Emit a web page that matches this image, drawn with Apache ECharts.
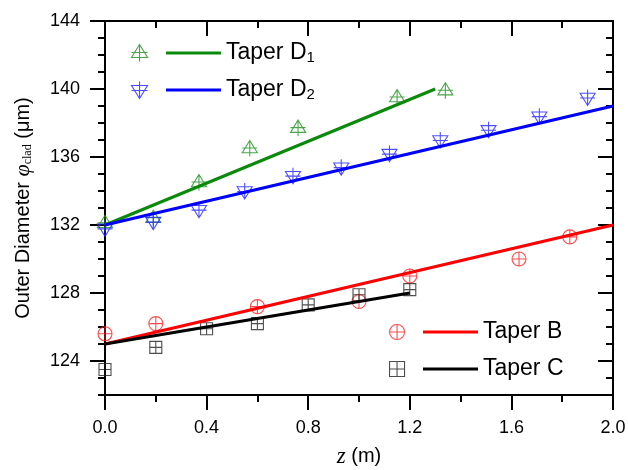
<!DOCTYPE html>
<html>
<head>
<meta charset="utf-8">
<script src="https://cdn.jsdelivr.net/npm/echarts@6/dist/echarts.min.js"></script>
<style>
  html, body { margin: 0; padding: 0; background: #fff; }
  #chart { width: 628px; height: 470px; }
</style>
</head>
<body>
<div id="chart"></div>
<script>
// measured points, z in m and diameter in um
var zD1 = [0, 0.19, 0.37, 0.57, 0.76, 1.15, 1.34];
var dD1 = [132.1, 132.4, 134.5, 136.5, 137.7, 139.5, 139.9];
var zD2 = [0, 0.19, 0.37, 0.55, 0.74, 0.93, 1.12, 1.32, 1.51, 1.71, 1.90];
var dD2 = [131.8, 132.2, 132.9, 134.0, 134.9, 135.4, 136.2, 137.0, 137.6, 138.4, 139.5];
var zB = [0, 0.2, 0.6, 1.0, 1.2, 1.63, 1.83];
var dB = [125.6, 126.2, 127.2, 127.5, 129.0, 130.0, 131.3];
var zC = [0, 0.2, 0.4, 0.6, 0.8, 1.0, 1.2];
var dC = [123.5, 124.8, 125.9, 126.2, 127.3, 127.9, 128.2];

// fitted lines (end points)
var fitZD1 = [0, 1.3], fitDD1 = [132, 140];
var fitZD2 = [0, 2.0], fitDD2 = [132, 139];
var fitZB = [0, 2.0], fitDB = [125, 132];
var fitZC = [0, 1.2], fitDC = [125, 128];

var yMajor = [124, 128, 132, 136, 140, 144];

var FONT = 'Liberation Sans';
var symUp = 'path://M8,0 L16,13 L0,13 Z M8,0 L8,17 M0,8 L16,8';
var symDown = 'path://M0,4 L16,4 L8,17 Z M8,0 L8,17 M0,9 L16,9';
var symCircle = 'path://M16,8 A8,8 0 1,1 0,8 A8,8 0 1,1 16,8 Z M0,8 L16,8 M8,0 L8,16';
var symSquare = 'path://M0,0 L16,0 L16,16 L0,16 Z M8,0 L8,16 M0,8 L16,8';

function pairs(xs, ys) {
  return xs.map(function (x, i) { return [x, ys[i]]; });
}

function pts(name, xs, ys, sym, size, color) {
  return {
    name: name, type: 'scatter', data: pairs(xs, ys),
    symbol: sym, symbolSize: size,
    itemStyle: { color: 'rgba(0,0,0,0)', borderColor: color, borderWidth: 1.1 },
    z: 2
  };
}
function fit(name, xs, ys, color) {
  return {
    name: name, type: 'line', data: pairs(xs, ys),
    symbol: 'none', showSymbol: false,
    lineStyle: { color: color, width: 3 },
    itemStyle: { color: color },
    z: 3
  };
}

var axLine = { show: true, lineStyle: { color: '#000', width: 2 } };
var tickStyle = { color: '#000', width: 2 };
var legText = {
  fontFamily: FONT, fontSize: 23, color: '#000', lineHeight: 24,
  rich: {
    m: { fontFamily: FONT, fontSize: 23, color: '#000', lineHeight: 24 },
    s: { fontFamily: FONT, fontSize: 15, color: '#000', lineHeight: 2, verticalAlign: 'bottom' }
  }
};
function legFmt(name) {
  if (name === 'Taper D1') return '{m|Taper D}{s|1}';
  if (name === 'Taper D2') return '{m|Taper D}{s|2}';
  return '{m|' + name + '}';
}
function blank() { return ' '; }

var chart = echarts.init(document.getElementById('chart'));
chart.setOption({
  animation: false,
  backgroundColor: '#fff',
  grid: { left: 105, right: 15, top: 21, bottom: 75, outerBoundsMode: 'none', containLabel: false },
  legend: [
    { data: ['D1 pts', 'D2 pts'], orient: 'vertical', left: 131, top: 41, padding: 0,
      itemWidth: 16, itemHeight: 17, itemGap: 13, selectedMode: false,
      itemStyle: { borderWidth: 1.1 },
      formatter: blank, textStyle: legText },
    { data: ['Taper D1', 'Taper D2'], orient: 'vertical', left: 166, top: 41, padding: 0,
      icon: 'rect', itemWidth: 55, itemHeight: 3, itemGap: 13, selectedMode: false,
      formatter: legFmt, textStyle: legText },
    { data: ['B pts', 'C pts'], orient: 'vertical', left: 389, top: 320, padding: 0,
      itemWidth: 15, itemHeight: 15, itemGap: 13, selectedMode: false,
      itemStyle: { borderWidth: 1.1 },
      formatter: blank, textStyle: legText },
    { data: ['Taper B', 'Taper C'], orient: 'vertical', left: 423, top: 320, padding: 0,
      icon: 'rect', itemWidth: 55, itemHeight: 3, itemGap: 13, selectedMode: false,
      formatter: legFmt, textStyle: legText }
  ],
  xAxis: [
    {
      type: 'value', position: 'bottom', min: 0, max: 2, interval: 0.4,
      axisLine: axLine,
      axisTick: { show: true, length: 15, lineStyle: tickStyle },
      minorTick: { show: true, splitNumber: 2, length: 7, lineStyle: tickStyle },
      splitLine: { show: false },
      axisLabel: { fontFamily: FONT, fontSize: 18, color: '#000', margin: 24,
        formatter: function (v) { return v.toFixed(1); } },
      name: '{i|z}{t| (m)}', nameLocation: 'middle', nameGap: 50,
      nameTextStyle: { rich: {
        i: { fontFamily: 'Liberation Serif', fontStyle: 'italic', fontSize: 23, color: '#000' },
        t: { fontFamily: FONT, fontSize: 20, color: '#000' }
      } }
    },
    {
      type: 'value', position: 'top', min: 0, max: 2, interval: 0.4,
      axisLine: axLine,
      axisTick: { show: true, inside: true, length: 15, lineStyle: tickStyle },
      minorTick: { show: true, splitNumber: 2, length: 7, lineStyle: tickStyle },
      splitLine: { show: false },
      axisLabel: { show: false }
    }
  ],
  yAxis: [
    {
      type: 'value', position: 'left', min: 122, max: 144, interval: 1,
      axisLine: axLine,
      axisTick: { show: true, length: 15, lineStyle: tickStyle, customValues: yMajor },
      splitLine: { show: false },
      axisLabel: { fontFamily: FONT, fontSize: 18, color: '#000', margin: 25, customValues: yMajor },
      name: '{t|Outer Diameter }{p|\u03C6}{s|clad}{t| (\u03BCm)}',
      nameLocation: 'middle', nameGap: 71, nameRotate: 90,
      nameTextStyle: { rich: {
        t: { fontFamily: FONT, fontSize: 20, color: '#000', lineHeight: 22 },
        p: { fontFamily: 'Liberation Serif', fontStyle: 'italic', fontSize: 22, color: '#000', lineHeight: 22 },
        s: { fontFamily: 'Liberation Serif', fontSize: 12, color: '#000', lineHeight: 6, verticalAlign: 'bottom' }
      } }
    },
    {
      type: 'value', position: 'left', min: 122, max: 144, interval: 1,
      axisLine: { show: false },
      axisTick: { show: true, length: 7, lineStyle: tickStyle },
      splitLine: { show: false },
      axisLabel: { show: false }
    },
    {
      type: 'value', position: 'right', min: 122, max: 144, interval: 1,
      axisLine: axLine,
      axisTick: { show: true, inside: true, length: 15, lineStyle: tickStyle, customValues: yMajor },
      splitLine: { show: false },
      axisLabel: { show: false }
    },
    {
      type: 'value', position: 'right', min: 122, max: 144, interval: 1,
      axisLine: { show: false },
      axisTick: { show: true, inside: true, length: 7, lineStyle: tickStyle },
      splitLine: { show: false },
      axisLabel: { show: false }
    }
  ],
  series: [
    pts('D1 pts', zD1, dD1, symUp, [15, 16], '#1a8f1a'),
    pts('D2 pts', zD2, dD2, symDown, [15, 16], '#2020ff'),
    pts('B pts', zB, dB, symCircle, [14, 14], '#ff2020'),
    pts('C pts', zC, dC, symSquare, [12, 12], '#222'),
    fit('Taper D1', fitZD1, fitDD1, '#0a8a0a'),
    fit('Taper D2', fitZD2, fitDD2, '#0000ff'),
    fit('Taper B', fitZB, fitDB, '#ff0000'),
    fit('Taper C', fitZC, fitDC, '#000000')
  ]
});
</script>
</body>
</html>
